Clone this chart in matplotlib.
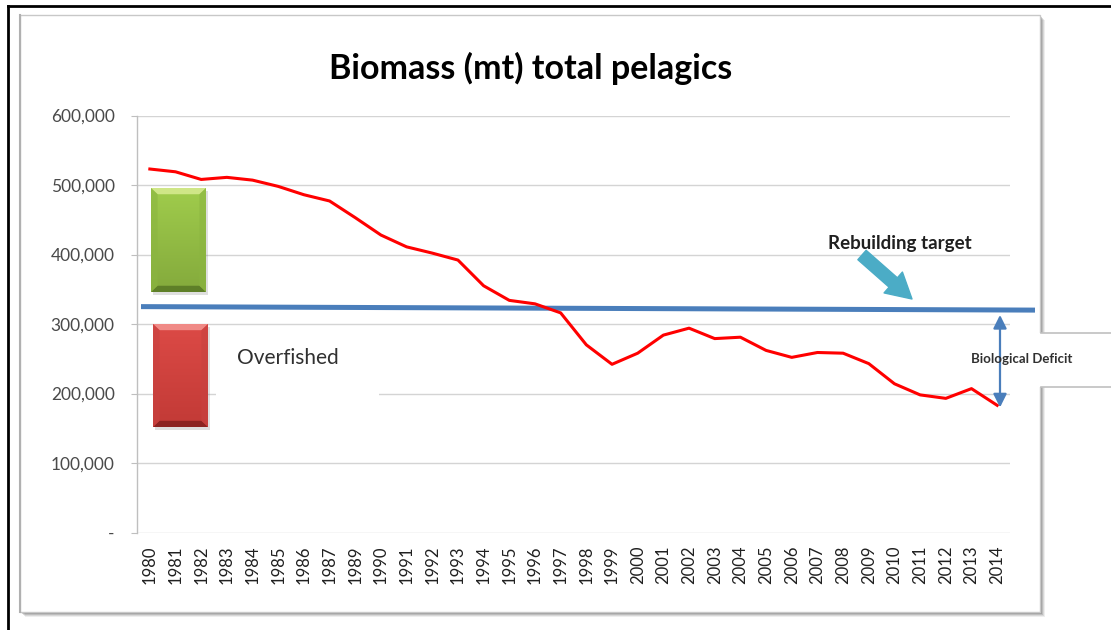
import matplotlib
matplotlib.use("Agg")
import matplotlib.pyplot as plt
import numpy as np
from matplotlib.patches import Rectangle, Polygon
from matplotlib.lines import Line2D
from matplotlib.ticker import FuncFormatter

# ---------------- data ----------------
years = ["1980", "1981", "1982", "1983", "1984", "1985", "1986", "1987", "1989",
         "1990", "1991", "1992", "1993", "1994", "1995", "1996", "1997", "1998",
         "1999", "2000", "2001", "2002", "2003", "2004", "2005", "2006", "2007",
         "2008", "2009", "2010", "2011", "2012", "2013", "2014"]
biomass = [523000, 519000, 508000, 511000, 507000, 498000, 486000, 477000, 453000,
           428000, 411000, 402000, 392000, 355000, 334000, 329000, 316000, 270000,
           242000, 258000, 284000, 294000, 279000, 281000, 262000, 252000, 259000,
           258000, 243000, 214000, 198000, 193000, 207000, 183000]
target_start = 325000
target_end = 320000
deficit_top = 313000
deficit_bottom = 180000
yticks = [0, 100000, 200000, 300000, 400000, 500000, 600000]

title = "Biomass (mt) total pelagics"
FONT = ["Lato", "DejaVu Sans"]

W, H = 1111, 630
fig = plt.figure(figsize=(W / 100, H / 100), dpi=100)
fig.patch.set_facecolor("white")


def fx(px):
    return px / W


def fy(py):
    return 1 - py / H


# ---------------- chart frame with shadow ----------------
L, T, R, B = 20, 15, 1040, 612
for off, a in [(5, 0.10), (4, 0.15), (3, 0.22), (2, 0.30)]:
    fig.patches.append(Rectangle((fx(L + off), fy(B + off)), fx(R - L), fy(T) - fy(B),
                                 transform=fig.transFigure, facecolor="#606060",
                                 edgecolor="none", alpha=a, zorder=-5))
fig.patches.append(Rectangle((fx(L), fy(B)), fx(R - L), fy(T) - fy(B),
                             transform=fig.transFigure, facecolor="white",
                             edgecolor="#c8c8c8", lw=1.0, zorder=-4))
fig.lines.append(Line2D([fx(L), fx(L)], [fy(T), fy(B)], transform=fig.transFigure,
                        color="#b0b0b0", lw=1.5, zorder=-3))
# white text box interrupting right edge
fig.patches.append(Rectangle((fx(1038), fy(387)), fx(W - 1038 + 5), fy(333) - fy(387),
                             transform=fig.transFigure, facecolor="white",
                             edgecolor="none", zorder=-2))
for yy in (333, 387):
    fig.lines.append(Line2D([fx(1041), fx(W)], [fy(yy), fy(yy)], transform=fig.transFigure,
                            color="#c0c0c0", lw=1.2, zorder=-1))

# outer black frame (left and top)
fig.lines.append(Line2D([fx(8), fx(8)], [fy(6), 0], transform=fig.transFigure,
                        color="black", lw=2.0, zorder=5))
fig.lines.append(Line2D([fx(8), 1], [fy(6), fy(6)], transform=fig.transFigure,
                        color="black", lw=2.0, zorder=5))

# ---------------- axes ----------------
ax_l, ax_r, ax_t, ax_b = 137, 1010, 115.5, 532.5
ax = fig.add_axes([fx(ax_l), fy(ax_b), fx(ax_r - ax_l), fy(ax_t) - fy(ax_b)])
ax.set_facecolor("none")
x = np.arange(len(years))
ax.set_xlim(-0.5, len(years) - 0.5)
ax.set_ylim(0, 600000)

ax.set_yticks(yticks)
ax.yaxis.set_major_formatter(FuncFormatter(lambda v, p: "-" if v == 0 else f"{int(v):,}"))
ax.set_xticks(x)
ax.set_xticklabels(years, rotation=90, fontsize=12, color="#202020", family=FONT)
for lab in ax.get_yticklabels():
    lab.set_family(FONT)
ax.tick_params(axis="y", labelsize=12.5, labelcolor="#4a4a4a", length=4, color="#bfbfbf",
               pad=12)
ax.tick_params(axis="x", length=0, pad=9)

for s in ["top", "right", "bottom"]:
    ax.spines[s].set_visible(False)
ax.spines["left"].set_color("#bfbfbf")
ax.spines["left"].set_linewidth(1.0)
ax.yaxis.grid(True, color="#d4d4d4", lw=1.0, zorder=0)
ax.set_axisbelow(True)

px2x = (len(years)) / (ax_r - ax_l)


def dx(px):
    return (px - ax_l) * px2x - 0.5


def dy(py):
    return (ax_b - py) / (ax_b - ax_t) * 600000


# white box behind "Overfished" (covers grid line)
ax.add_patch(Rectangle((dx(216), 165000), dx(379) - dx(216), 120000,
                       facecolor="white", edgecolor="none", zorder=1))


def bevel_box(x0, x1, y0, y1, top, mid_top, mid_bot, bot, side):
    bx = (x1 - x0) * 0.12
    by = (y1 - y0) * 0.06
    grad = np.linspace(0, 1, 64)[:, None]
    c1 = np.array(matplotlib.colors.to_rgb(mid_top))
    c2 = np.array(matplotlib.colors.to_rgb(mid_bot))
    img = c1[None, None, :] * (1 - grad[..., None]) + c2[None, None, :] * grad[..., None]
    img = np.repeat(img, 4, axis=1)
    ax.add_patch(Rectangle((x0 + 0.06, y0 - 4000), x1 - x0, y1 - y0, facecolor="#808080",
                           alpha=0.25, edgecolor="none", zorder=2))
    ax.imshow(img, extent=(x0, x1, y0, y1), aspect="auto", zorder=3, origin="upper")
    ax.add_patch(Polygon([(x0, y1), (x1, y1), (x1 - bx, y1 - by), (x0 + bx, y1 - by)],
                         facecolor=top, edgecolor="none", zorder=4))
    ax.add_patch(Polygon([(x0, y0), (x1, y0), (x1 - bx, y0 + by), (x0 + bx, y0 + by)],
                         facecolor=bot, edgecolor="none", zorder=4))
    ax.add_patch(Polygon([(x0, y0), (x0, y1), (x0 + bx, y1 - by), (x0 + bx, y0 + by)],
                         facecolor=side, edgecolor="none", alpha=0.6, zorder=4))
    ax.add_patch(Polygon([(x1, y0), (x1, y1), (x1 - bx, y1 - by), (x1 - bx, y0 + by)],
                         facecolor=side, edgecolor="none", alpha=0.6, zorder=4))
    ax.set_xlim(-0.5, len(years) - 0.5)
    ax.set_ylim(0, 600000)


bevel_box(dx(151), dx(206), dy(292), dy(188),
          "#cfe687", "#a0cc4c", "#84aa3c", "#5e7f28", "#8bb540")
bevel_box(dx(153), dx(208), dy(427), dy(324),
          "#f08a86", "#dc4a46", "#c23a36", "#8c2321", "#c84240")

# target line
ax.plot([dx(141), dx(1035)], [target_start, target_end], color="#4a7ebb", lw=3.6,
        solid_capstyle="butt", clip_on=False, zorder=5)

# biomass line
ax.plot(x, biomass, color="#ff0000", lw=2.2, zorder=6, solid_joinstyle="round")

# biological deficit arrow
ax.annotate("", xy=(dx(1000), deficit_bottom), xytext=(dx(1000), deficit_top),
            arrowprops=dict(arrowstyle="<|-|>", color="#4a7ebb", lw=1.6,
                            mutation_scale=20, shrinkA=0, shrinkB=0),
            annotation_clip=False, zorder=7)
ax.text(dx(1022), dy(359), "Biological Deficit", ha="center", va="center",
        fontsize=9.5, fontweight="bold", color="#303030", family=FONT, clip_on=False,
        zorder=8)

# rebuilding target label and arrow
ax.text(dx(900), dy(243), "Rebuilding target", ha="center", va="center",
        fontsize=13.5, fontweight="bold", color="#202020", family=FONT, zorder=8)
ax.annotate("", xy=(dx(912), dy(299)), xytext=(dx(862), dy(255)),
            arrowprops=dict(arrowstyle="simple,head_length=0.9,head_width=1.0,tail_width=0.45",
                            color="#4bacc6", mutation_scale=20, shrinkA=0, shrinkB=0),
            zorder=8)

ax.text(dx(237), dy(358), "Overfished", ha="left", va="center", fontsize=15,
        color="#303030", family=FONT, zorder=8)

fig.text(fx(531), fy(68), title, ha="center", va="center", fontsize=24.5,
         fontweight="bold", color="#000000", family=FONT)

fig.savefig("out.png", dpi=100, facecolor="white")
